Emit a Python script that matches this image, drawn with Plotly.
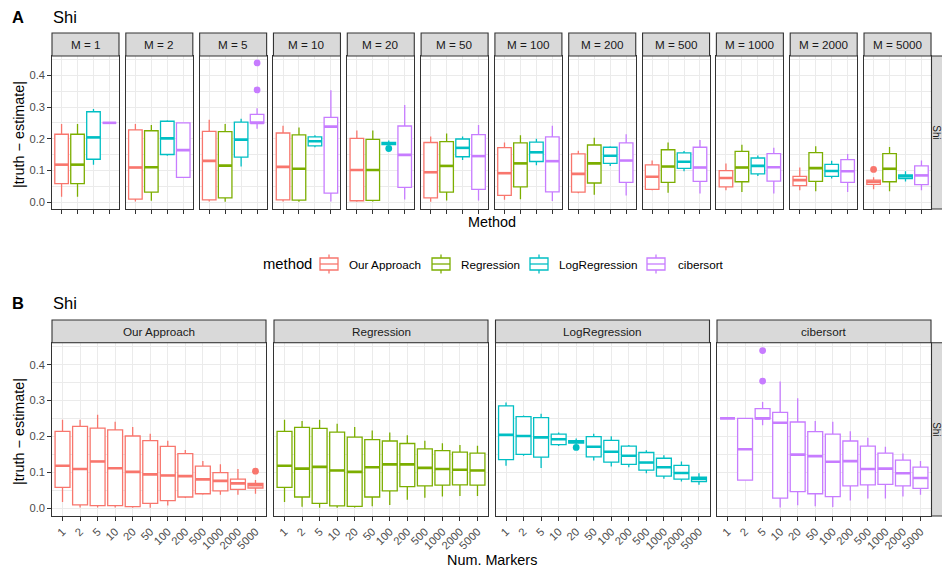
import plotly.graph_objects as go

W, H = 942, 571
FONT = "Liberation Sans, Arial, Helvetica, sans-serif"

# ---- data -------------------------------------------------------------
MARKERS = [1, 2, 5, 10, 20, 50, 100, 200, 500, 1000, 2000, 5000]
MARKER_LABELS = [str(m) for m in MARKERS]
METHODS = ["Our Approach", "Regression", "LogRegression", "cibersort"]
COLORS = ["#F8766D", "#7CAE00", "#00BFC4", "#C77CFF"]

# box statistics per method, one value per number of markers
OUR_APPROACH = dict(
    lo=[0.017, 0.002, 0.002, 0.002, 0.001, 0.001, 0.007, 0.028, 0.037, 0.037, 0.037, 0.040],
    q1=[0.058, 0.009, 0.007, 0.007, 0.004, 0.013, 0.021, 0.031, 0.040, 0.048, 0.052, 0.056],
    med=[0.118, 0.109, 0.130, 0.111, 0.101, 0.094, 0.091, 0.089, 0.080, 0.076, 0.069, 0.064],
    q3=[0.214, 0.228, 0.223, 0.218, 0.201, 0.188, 0.172, 0.152, 0.117, 0.099, 0.081, 0.069],
    hi=[0.246, 0.246, 0.260, 0.241, 0.226, 0.207, 0.188, 0.162, 0.131, 0.122, 0.109, 0.078],
)
REGRESSION = dict(
    lo=[0.017, 0.004, 0.001, 0.001, 0.002, 0.005, 0.009, 0.023, 0.029, 0.032, 0.034, 0.034],
    q1=[0.058, 0.031, 0.013, 0.006, 0.005, 0.031, 0.048, 0.060, 0.062, 0.064, 0.065, 0.064],
    med=[0.118, 0.110, 0.115, 0.105, 0.101, 0.114, 0.122, 0.122, 0.112, 0.109, 0.107, 0.105],
    q3=[0.214, 0.225, 0.222, 0.212, 0.198, 0.191, 0.187, 0.180, 0.165, 0.160, 0.156, 0.153],
    hi=[0.246, 0.243, 0.246, 0.235, 0.226, 0.216, 0.211, 0.203, 0.188, 0.181, 0.176, 0.174],
)
LOG_REGRESSION = dict(
    lo=[0.118, 0.146, 0.112, 0.173, 0.179, 0.133, 0.116, 0.114, 0.097, 0.082, 0.074, 0.065],
    q1=[0.135, 0.150, 0.142, 0.177, 0.181, 0.143, 0.128, 0.122, 0.106, 0.089, 0.081, 0.074],
    med=[0.204, 0.201, 0.197, 0.192, 0.185, 0.171, 0.157, 0.146, 0.127, 0.114, 0.098, 0.081],
    q3=[0.285, 0.255, 0.252, 0.206, 0.188, 0.199, 0.189, 0.173, 0.155, 0.139, 0.119, 0.086],
    hi=[0.294, 0.258, 0.263, 0.211, 0.194, 0.207, 0.200, 0.176, 0.161, 0.147, 0.130, 0.097],
)
CIBERSORT = dict(
    lo=[0.250, 0.078, 0.231, 0.002, 0.008, 0.005, 0.003, 0.021, 0.027, 0.027, 0.032, 0.037],
    q1=[0.250, 0.078, 0.249, 0.028, 0.046, 0.040, 0.032, 0.062, 0.065, 0.066, 0.062, 0.055],
    med=[0.250, 0.164, 0.250, 0.238, 0.149, 0.145, 0.129, 0.131, 0.109, 0.110, 0.097, 0.084],
    q3=[0.250, 0.250, 0.277, 0.267, 0.240, 0.213, 0.206, 0.187, 0.173, 0.153, 0.134, 0.114],
    hi=[0.250, 0.250, 0.296, 0.353, 0.306, 0.243, 0.241, 0.214, 0.196, 0.171, 0.152, 0.131],
)
STATS = [OUR_APPROACH, REGRESSION, LOG_REGRESSION, CIBERSORT]

# outlying points: method -> (number of markers, value)
OUTLIERS = {
    "Our Approach": ([5000], [0.103]),
    "Regression": ([], []),
    "LogRegression": ([20], [0.169]),
    "cibersort": ([5, 5], [0.354, 0.439]),
}

Y_TICKS = [0.0, 0.1, 0.2, 0.3, 0.4]
Y_TICK_TEXT = ["0.0", "0.1", "0.2", "0.3", "0.4"]
Y_MINOR = [0.05, 0.15, 0.25, 0.35, 0.45]
Y_RANGE = [-0.022, 0.461]

# ---- geometry (pixels) ------------------------------------------------
BOX_W = 0.85
TOP_PANEL = (56, 209)
TOP_STRIP = (33, 56)
TOP_LEFT0, TOP_PITCH, TOP_WIDTH = 52, 73.82, 67
BOT_PANEL = (342.7, 516)
BOT_STRIP = (320, 342.7)
BOT_LEFTS, BOT_WIDTH = [52, 274, 495.5, 717], 214
RIGHT_STRIP = (931.5, 956)
LEGEND_Y = 264
LEGEND_TITLE_X = 261
LEGEND_KEY_X = [329, 441, 539, 656]      # key centres
LEGEND_TEXT_X = [347, 459, 557, 676]     # label left edges

STRIP_SIZE = 11.7
TICK_SIZE = 11.2
TITLE_SIZE = 14.4

GRID = "#EBEBEB"
DARK = "#333333"


def px_x(v):
    return v / W


def px_y(v):
    return 1 - v / H


fig = go.Figure()
layout = {}
shapes = []
annotations = []


def axis_pair(idx, x0, x1, ytop, ybot, xvals, xlabels, first, show_xlabels):
    xn = "xaxis" if idx == 1 else f"xaxis{idx}"
    yn = "yaxis" if idx == 1 else f"yaxis{idx}"
    xr = "x" if idx == 1 else f"x{idx}"
    yr = "y" if idx == 1 else f"y{idx}"
    frame = dict(showline=True, mirror=True, linecolor=DARK, linewidth=1.1,
                 zeroline=False, fixedrange=True)
    layout[xn] = dict(
        domain=[px_x(x0), px_x(x1)], anchor=yr, range=[0.4, len(xvals) + 0.6],
        tickmode="array", tickvals=xvals, ticktext=xlabels,
        showticklabels=show_xlabels, ticks="outside", ticklen=3.7,
        tickwidth=1.1, tickcolor=DARK, tickangle=-45,
        tickfont=dict(size=TICK_SIZE, color="#4D4D4D", family=FONT),
        showgrid=True, gridcolor=GRID, gridwidth=1.1, **frame)
    layout[yn] = dict(
        domain=[px_y(ybot), px_y(ytop)], anchor=xr, range=Y_RANGE,
        tickmode="array", tickvals=Y_TICKS, ticktext=Y_TICK_TEXT,
        showticklabels=first, ticks="outside" if first else "", ticklen=3.7,
        tickwidth=1.1, tickcolor=DARK,
        tickfont=dict(size=TICK_SIZE, color="#4D4D4D", family=FONT),
        showgrid=True, gridcolor=GRID, gridwidth=1.1,
        minor=dict(tickmode="array", tickvals=Y_MINOR, showgrid=True,
                   gridcolor=GRID, gridwidth=0.6, ticks=""),
        **frame)
    return xr, yr


def rect(x0, x1, y0, y1, fill, line, width=1.1):
    shapes.append(dict(type="rect", xref="paper", yref="paper",
                       x0=px_x(x0), x1=px_x(x1), y0=px_y(y1), y1=px_y(y0),
                       fillcolor=fill, line=dict(color=line, width=width),
                       layer="above"))


def seg(x0, y0, x1, y1, color, width):
    shapes.append(dict(type="line", xref="paper", yref="paper",
                       x0=px_x(x0), x1=px_x(x1), y0=px_y(y0), y1=px_y(y1),
                       line=dict(color=color, width=width), layer="above"))


def label(x, y, text, size, anchor="center", angle=0, color="#000000", pad=1):
    annotations.append(dict(xref="paper", yref="paper", x=px_x(x), y=px_y(y),
                            text=text, showarrow=False, xanchor=anchor,
                            yanchor="middle", textangle=angle, borderpad=pad,
                            font=dict(size=size, color=color, family=FONT)))


def strip(x0, x1, y0, y1, text, angle=0, tx=None, size=STRIP_SIZE):
    rect(x0, x1, y0, y1, "#D9D9D9", DARK)
    label(tx if tx is not None else (x0 + x1) / 2, (y0 + y1) / 2, text,
          size, angle=angle, color="#1A1A1A", pad=0)


def add_medians(xs, meds, color, xr, yr):
    lx, ly = [], []
    for x, m in zip(xs, meds):
        lx += [x - BOX_W / 2, x + BOX_W / 2, None]
        ly += [m, m, None]
    fig.add_trace(go.Scatter(x=lx, y=ly, mode="lines", xaxis=xr, yaxis=yr,
                             line=dict(color=color, width=2.6),
                             hoverinfo="skip", showlegend=False))


def add_boxes(xs, st, idxs, color, name, xr, yr):
    fig.add_trace(go.Box(
        x=xs, q1=[st["q1"][i] for i in idxs], median=[st["med"][i] for i in idxs],
        q3=[st["q3"][i] for i in idxs], lowerfence=[st["lo"][i] for i in idxs],
        upperfence=[st["hi"][i] for i in idxs], width=BOX_W, whiskerwidth=0,
        boxpoints=False, fillcolor="white", line=dict(color=color, width=1.3),
        name=name, showlegend=False, xaxis=xr, yaxis=yr, hoverinfo="skip"))
    add_medians(xs, [st["med"][i] for i in idxs], color, xr, yr)


def add_outliers(xs, ys, color, xr, yr):
    if xs:
        fig.add_trace(go.Scatter(x=xs, y=ys, mode="markers", xaxis=xr, yaxis=yr,
                                 marker=dict(color=color, size=6.8),
                                 hoverinfo="skip", showlegend=False))


# ---- panel A: one facet per number of markers ------------------------
method_pos = list(range(1, len(METHODS) + 1))
for k, m in enumerate(MARKERS):
    x0 = TOP_LEFT0 + k * TOP_PITCH
    x1 = x0 + TOP_WIDTH
    xr, yr = axis_pair(k + 1, x0, x1, *TOP_PANEL, method_pos, METHODS,
                       k == 0, False)
    strip(x0, x1, *TOP_STRIP, f"M = {m}")
    for j, (meth, col, st) in enumerate(zip(METHODS, COLORS, STATS)):
        add_boxes([method_pos[j]], st, [k], col, meth, xr, yr)
        pts = [v for mm, v in zip(*OUTLIERS[meth]) if mm == m]
        add_outliers([method_pos[j]] * len(pts), pts, col, xr, yr)
strip(RIGHT_STRIP[0], RIGHT_STRIP[1], *TOP_PANEL, "Shi", angle=90, tx=936.2,
      size=10)

# ---- panel B: one facet per method -----------------------------------
marker_pos = list(range(1, len(MARKERS) + 1))
for j, (meth, col, st) in enumerate(zip(METHODS, COLORS, STATS)):
    x0 = BOT_LEFTS[j]
    x1 = x0 + BOT_WIDTH
    xr, yr = axis_pair(13 + j, x0, x1, *BOT_PANEL, marker_pos, MARKER_LABELS,
                       j == 0, True)
    strip(x0, x1, *BOT_STRIP, meth)
    add_boxes(marker_pos, st, list(range(len(MARKERS))), col, meth, xr, yr)
    add_outliers([marker_pos[MARKERS.index(mm)] for mm in OUTLIERS[meth][0]],
                 OUTLIERS[meth][1], col, xr, yr)
strip(RIGHT_STRIP[0], RIGHT_STRIP[1], *BOT_PANEL, "Shi", angle=90, tx=936.2,
      size=10)

# ---- legend (boxplot keys) ------------------------------------------
label(LEGEND_TITLE_X, LEGEND_Y, "method", 14.8, anchor="left")
for meth, col, kx, tx in zip(METHODS, COLORS, LEGEND_KEY_X, LEGEND_TEXT_X):
    seg(kx, LEGEND_Y - 9.5, kx, LEGEND_Y + 9.5, col, 1.3)
    rect(kx - 9, kx + 9, LEGEND_Y - 6, LEGEND_Y + 6, "white", col, 1.3)
    seg(kx - 9, LEGEND_Y, kx + 9, LEGEND_Y, col, 1.3)
    label(tx, LEGEND_Y, meth, STRIP_SIZE, anchor="left")

# ---- titles -------------------------------------------------------------
label(10, 17, "<b>A</b>", 16.5, anchor="left")
label(51, 17, "Shi", 16.5, anchor="left")
label(10, 302.5, "<b>B</b>", 16.5, anchor="left")
label(51, 302.5, "Shi", 16.5, anchor="left")
label(19, 135, "|truth − estimate|", TITLE_SIZE, angle=-90)
label(19, 432, "|truth − estimate|", TITLE_SIZE, angle=-90)
label(491.5, 221.5, "Method", TITLE_SIZE)
label(491.5, 560, "Num. Markers", TITLE_SIZE)

fig.update_layout(
    width=W, height=H, margin=dict(l=0, r=0, t=0, b=0),
    paper_bgcolor="white", plot_bgcolor="white", boxmode="overlay",
    font=dict(family=FONT, color="#000000"), showlegend=False,
    shapes=shapes, annotations=annotations,
    **layout,
)

fig.write_html("out.html")
